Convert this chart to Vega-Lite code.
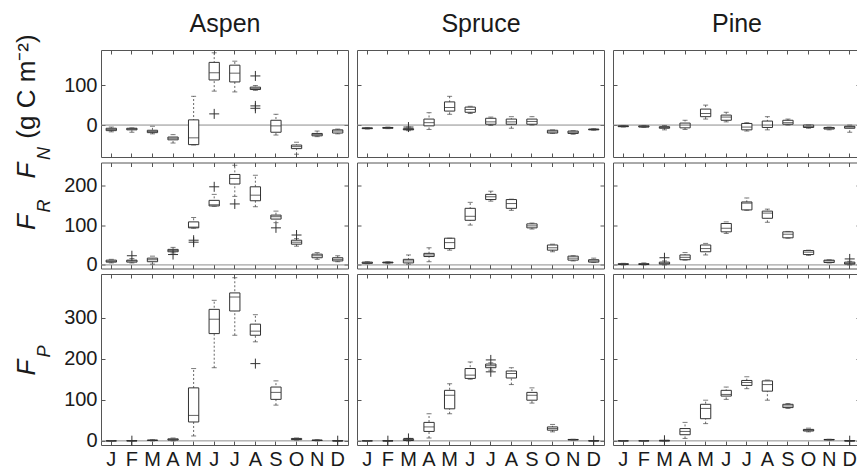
{
"$schema":"https://vega.github.io/schema/vega-lite/v6.json",
"background":"white",
"padding":{"left":12,"top":10,"right":0,"bottom":0},
"bounds":"flush",
"columns":3,
"spacing":{"row":5.5,"column":9},
"config":{
 "view":{"stroke":"#555555","strokeWidth":1},
 "font":"Liberation Sans",
 "axis":{"grid":false,"domain":false,"tickSize":-4,"tickColor":"#555555","tickWidth":1,"labelFont":"Liberation Sans","labelFontSize":20,"labelColor":"#1a1a1a","labelPadding":8,"titleFont":"Liberation Sans","titleColor":"#1a1a1a","titleFontWeight":"normal"},
 "axisX":{"labelAngle":0}
},
"datasets":{
"box":[
{"s":"Aspen","f":"N","m":1,"lo":-17,"q1":-14,"med":-11,"q3":-8,"hi":-5},
{"s":"Aspen","f":"N","m":2,"lo":-18,"q1":-12,"med":-10,"q3":-8,"hi":-7},
{"s":"Aspen","f":"N","m":3,"lo":-22,"q1":-19,"med":-16,"q3":-13,"hi":-3},
{"s":"Aspen","f":"N","m":4,"lo":-45,"q1":-37,"med":-33,"q3":-30,"hi":-24},
{"s":"Aspen","f":"N","m":5,"lo":-50,"q1":-49,"med":-32,"q3":13,"hi":72},
{"s":"Aspen","f":"N","m":6,"lo":85,"q1":113,"med":131,"q3":157,"hi":181},
{"s":"Aspen","f":"N","m":7,"lo":83,"q1":108,"med":130,"q3":150,"hi":160},
{"s":"Aspen","f":"N","m":8,"lo":87,"q1":89,"med":92,"q3":95,"hi":99},
{"s":"Aspen","f":"N","m":9,"lo":-25,"q1":-18,"med":-2,"q3":12,"hi":27},
{"s":"Aspen","f":"N","m":10,"lo":-73,"q1":-59,"med":-54,"q3":-50,"hi":-43},
{"s":"Aspen","f":"N","m":11,"lo":-29,"q1":-27,"med":-24,"q3":-21,"hi":-15},
{"s":"Aspen","f":"N","m":12,"lo":-22,"q1":-20,"med":-15,"q3":-12,"hi":-10},
{"s":"Spruce","f":"N","m":1,"lo":-10,"q1":-9,"med":-8,"q3":-7,"hi":-6},
{"s":"Spruce","f":"N","m":2,"lo":-9,"q1":-8,"med":-7,"q3":-6,"hi":-5},
{"s":"Spruce","f":"N","m":3,"lo":-14,"q1":-12,"med":-11,"q3":-9,"hi":-5},
{"s":"Spruce","f":"N","m":4,"lo":-11,"q1":-2,"med":6,"q3":15,"hi":31},
{"s":"Spruce","f":"N","m":5,"lo":27,"q1":35,"med":44,"q3":58,"hi":72},
{"s":"Spruce","f":"N","m":6,"lo":29,"q1":32,"med":39,"q3":45,"hi":47},
{"s":"Spruce","f":"N","m":7,"lo":-1,"q1":2,"med":8,"q3":17,"hi":20},
{"s":"Spruce","f":"N","m":8,"lo":-8,"q1":2,"med":8,"q3":15,"hi":21},
{"s":"Spruce","f":"N","m":9,"lo":0,"q1":2,"med":9,"q3":15,"hi":21},
{"s":"Spruce","f":"N","m":10,"lo":-21,"q1":-20,"med":-17,"q3":-13,"hi":-12},
{"s":"Spruce","f":"N","m":11,"lo":-23,"q1":-21,"med":-18,"q3":-15,"hi":-14},
{"s":"Spruce","f":"N","m":12,"lo":-13,"q1":-12,"med":-11,"q3":-10,"hi":-9},
{"s":"Pine","f":"N","m":1,"lo":-5,"q1":-4,"med":-3,"q3":-2,"hi":-1},
{"s":"Pine","f":"N","m":2,"lo":-6,"q1":-5,"med":-4,"q3":-2,"hi":-1},
{"s":"Pine","f":"N","m":3,"lo":-12,"q1":-8,"med":-6,"q3":-4,"hi":-1},
{"s":"Pine","f":"N","m":4,"lo":-11,"q1":-7,"med":0,"q3":5,"hi":12},
{"s":"Pine","f":"N","m":5,"lo":15,"q1":21,"med":29,"q3":40,"hi":50},
{"s":"Pine","f":"N","m":6,"lo":8,"q1":12,"med":20,"q3":25,"hi":32},
{"s":"Pine","f":"N","m":7,"lo":-15,"q1":-12,"med":-5,"q3":4,"hi":6},
{"s":"Pine","f":"N","m":8,"lo":-12,"q1":-6,"med":0,"q3":10,"hi":21},
{"s":"Pine","f":"N","m":9,"lo":0,"q1":2,"med":6,"q3":12,"hi":15},
{"s":"Pine","f":"N","m":10,"lo":-8,"q1":-6,"med":-4,"q3":0,"hi":0},
{"s":"Pine","f":"N","m":11,"lo":-12,"q1":-10,"med":-8,"q3":-6,"hi":-5},
{"s":"Pine","f":"N","m":12,"lo":-18,"q1":-8,"med":-5,"q3":-3,"hi":0},
{"s":"Aspen","f":"R","m":1,"lo":5,"q1":7,"med":9,"q3":12,"hi":14},
{"s":"Aspen","f":"R","m":2,"lo":5,"q1":7,"med":10,"q3":12,"hi":16},
{"s":"Aspen","f":"R","m":3,"lo":2,"q1":8,"med":13,"q3":17,"hi":22},
{"s":"Aspen","f":"R","m":4,"lo":30,"q1":33,"med":36,"q3":39,"hi":44},
{"s":"Aspen","f":"R","m":5,"lo":92,"q1":93,"med":95,"q3":108,"hi":119},
{"s":"Aspen","f":"R","m":6,"lo":147,"q1":148,"med":151,"q3":162,"hi":177},
{"s":"Aspen","f":"R","m":7,"lo":172,"q1":203,"med":217,"q3":227,"hi":250},
{"s":"Aspen","f":"R","m":8,"lo":146,"q1":161,"med":175,"q3":196,"hi":225},
{"s":"Aspen","f":"R","m":9,"lo":106,"q1":115,"med":121,"q3":125,"hi":135},
{"s":"Aspen","f":"R","m":10,"lo":47,"q1":52,"med":57,"q3":62,"hi":66},
{"s":"Aspen","f":"R","m":11,"lo":14,"q1":18,"med":23,"q3":27,"hi":31},
{"s":"Aspen","f":"R","m":12,"lo":8,"q1":10,"med":14,"q3":18,"hi":23},
{"s":"Spruce","f":"R","m":1,"lo":3,"q1":4,"med":5,"q3":7,"hi":8},
{"s":"Spruce","f":"R","m":2,"lo":3,"q1":5,"med":6,"q3":7,"hi":8},
{"s":"Spruce","f":"R","m":3,"lo":2,"q1":5,"med":10,"q3":14,"hi":25},
{"s":"Spruce","f":"R","m":4,"lo":8,"q1":21,"med":25,"q3":29,"hi":43},
{"s":"Spruce","f":"R","m":5,"lo":37,"q1":41,"med":56,"q3":67,"hi":67},
{"s":"Spruce","f":"R","m":6,"lo":100,"q1":112,"med":122,"q3":142,"hi":157},
{"s":"Spruce","f":"R","m":7,"lo":160,"q1":164,"med":171,"q3":177,"hi":185},
{"s":"Spruce","f":"R","m":8,"lo":137,"q1":142,"med":154,"q3":164,"hi":165},
{"s":"Spruce","f":"R","m":9,"lo":90,"q1":93,"med":98,"q3":103,"hi":105},
{"s":"Spruce","f":"R","m":10,"lo":33,"q1":37,"med":43,"q3":50,"hi":52},
{"s":"Spruce","f":"R","m":11,"lo":10,"q1":12,"med":17,"q3":22,"hi":23},
{"s":"Spruce","f":"R","m":12,"lo":6,"q1":7,"med":10,"q3":13,"hi":17},
{"s":"Pine","f":"R","m":1,"lo":0,"q1":1,"med":2,"q3":3,"hi":4},
{"s":"Pine","f":"R","m":2,"lo":0,"q1":1,"med":2,"q3":3,"hi":5},
{"s":"Pine","f":"R","m":3,"lo":0,"q1":2,"med":4,"q3":7,"hi":10},
{"s":"Pine","f":"R","m":4,"lo":12,"q1":13,"med":19,"q3":25,"hi":31},
{"s":"Pine","f":"R","m":5,"lo":25,"q1":33,"med":41,"q3":50,"hi":54},
{"s":"Pine","f":"R","m":6,"lo":79,"q1":83,"med":92,"q3":104,"hi":108},
{"s":"Pine","f":"R","m":7,"lo":137,"q1":138,"med":155,"q3":158,"hi":168},
{"s":"Pine","f":"R","m":8,"lo":107,"q1":117,"med":130,"q3":135,"hi":140},
{"s":"Pine","f":"R","m":9,"lo":67,"q1":68,"med":77,"q3":83,"hi":84},
{"s":"Pine","f":"R","m":10,"lo":24,"q1":26,"med":32,"q3":36,"hi":37},
{"s":"Pine","f":"R","m":11,"lo":5,"q1":6,"med":10,"q3":12,"hi":13},
{"s":"Pine","f":"R","m":12,"lo":0,"q1":2,"med":4,"q3":7,"hi":9},
{"s":"Aspen","f":"P","m":1,"lo":0,"q1":0,"med":0,"q3":0,"hi":0.5},
{"s":"Aspen","f":"P","m":2,"lo":0,"q1":0,"med":0.3,"q3":0.5,"hi":1},
{"s":"Aspen","f":"P","m":3,"lo":0,"q1":1,"med":1.5,"q3":2,"hi":3},
{"s":"Aspen","f":"P","m":4,"lo":0,"q1":2,"med":3,"q3":5,"hi":7},
{"s":"Aspen","f":"P","m":5,"lo":12,"q1":46,"med":62,"q3":129,"hi":176},
{"s":"Aspen","f":"P","m":6,"lo":178,"q1":261,"med":296,"q3":320,"hi":342},
{"s":"Aspen","f":"P","m":7,"lo":257,"q1":316,"med":350,"q3":360,"hi":397},
{"s":"Aspen","f":"P","m":8,"lo":241,"q1":257,"med":267,"q3":284,"hi":307},
{"s":"Aspen","f":"P","m":9,"lo":87,"q1":101,"med":118,"q3":131,"hi":146},
{"s":"Aspen","f":"P","m":10,"lo":2,"q1":3,"med":4,"q3":6,"hi":7},
{"s":"Aspen","f":"P","m":11,"lo":0,"q1":1,"med":1.5,"q3":2,"hi":3},
{"s":"Aspen","f":"P","m":12,"lo":0,"q1":0,"med":0,"q3":0.3,"hi":0.5},
{"s":"Spruce","f":"P","m":1,"lo":0,"q1":0,"med":0,"q3":0,"hi":0.5},
{"s":"Spruce","f":"P","m":2,"lo":0,"q1":0,"med":0,"q3":0.3,"hi":0.5},
{"s":"Spruce","f":"P","m":3,"lo":0,"q1":1,"med":2,"q3":4,"hi":6},
{"s":"Spruce","f":"P","m":4,"lo":7,"q1":23,"med":34,"q3":45,"hi":66},
{"s":"Spruce","f":"P","m":5,"lo":66,"q1":78,"med":111,"q3":123,"hi":139},
{"s":"Spruce","f":"P","m":6,"lo":150,"q1":152,"med":160,"q3":176,"hi":192},
{"s":"Spruce","f":"P","m":7,"lo":172,"q1":178,"med":183,"q3":187,"hi":190},
{"s":"Spruce","f":"P","m":8,"lo":137,"q1":153,"med":164,"q3":170,"hi":178},
{"s":"Spruce","f":"P","m":9,"lo":92,"q1":99,"med":111,"q3":118,"hi":129},
{"s":"Spruce","f":"P","m":10,"lo":22,"q1":26,"med":30,"q3":34,"hi":40},
{"s":"Spruce","f":"P","m":11,"lo":2,"q1":2.5,"med":3,"q3":3.5,"hi":4},
{"s":"Spruce","f":"P","m":12,"lo":0,"q1":0,"med":0,"q3":0.3,"hi":0.5},
{"s":"Pine","f":"P","m":1,"lo":0,"q1":0,"med":0,"q3":0,"hi":0.5},
{"s":"Pine","f":"P","m":2,"lo":0,"q1":0,"med":0,"q3":0.3,"hi":0.5},
{"s":"Pine","f":"P","m":3,"lo":0,"q1":0,"med":0.3,"q3":0.5,"hi":1},
{"s":"Pine","f":"P","m":4,"lo":6,"q1":15,"med":23,"q3":30,"hi":45},
{"s":"Pine","f":"P","m":5,"lo":42,"q1":54,"med":79,"q3":89,"hi":99},
{"s":"Pine","f":"P","m":6,"lo":101,"q1":109,"med":113,"q3":123,"hi":131},
{"s":"Pine","f":"P","m":7,"lo":127,"q1":135,"med":142,"q3":147,"hi":156},
{"s":"Pine","f":"P","m":8,"lo":99,"q1":121,"med":137,"q3":146,"hi":148},
{"s":"Pine","f":"P","m":9,"lo":79,"q1":81,"med":85,"q3":89,"hi":91},
{"s":"Pine","f":"P","m":10,"lo":22,"q1":24,"med":26,"q3":28,"hi":31},
{"s":"Pine","f":"P","m":11,"lo":2,"q1":2.5,"med":3,"q3":3.5,"hi":4},
{"s":"Pine","f":"P","m":12,"lo":0,"q1":0,"med":0,"q3":0.3,"hi":0.5}
],
"out":[
{"s":"Aspen","f":"N","m":6,"v":28},
{"s":"Aspen","f":"N","m":8,"v":123},
{"s":"Aspen","f":"N","m":8,"v":48},
{"s":"Aspen","f":"N","m":8,"v":42},
{"s":"Spruce","f":"N","m":3,"v":-5},
{"s":"Aspen","f":"R","m":2,"v":23},
{"s":"Aspen","f":"R","m":4,"v":26},
{"s":"Aspen","f":"R","m":5,"v":62},
{"s":"Aspen","f":"R","m":5,"v":57},
{"s":"Aspen","f":"R","m":6,"v":196},
{"s":"Aspen","f":"R","m":7,"v":153},
{"s":"Aspen","f":"R","m":9,"v":93},
{"s":"Aspen","f":"R","m":10,"v":75},
{"s":"Pine","f":"R","m":3,"v":18},
{"s":"Pine","f":"R","m":12,"v":15},
{"s":"Aspen","f":"P","m":2,"v":0.5},
{"s":"Aspen","f":"P","m":8,"v":188},
{"s":"Aspen","f":"P","m":12,"v":0.5},
{"s":"Spruce","f":"P","m":2,"v":0.5},
{"s":"Spruce","f":"P","m":3,"v":6},
{"s":"Spruce","f":"P","m":7,"v":197},
{"s":"Spruce","f":"P","m":7,"v":168},
{"s":"Spruce","f":"P","m":12,"v":0.5},
{"s":"Pine","f":"P","m":3,"v":1.5},
{"s":"Pine","f":"P","m":12,"v":0.5}
]
},
"concat":[
{"width":247,"height":107,"data":{"name":"box"},"transform":[{"filter":"datum.s==='Aspen'&&datum.f==='N'"}],"resolve":{"axis":{"x":"independent","y":"independent"}},"layer":[
 {"transform":[{"filter":"datum.m===1"}],"mark":{"type":"rule","color":"#8c8c8c","strokeWidth":1},"encoding":{"y":{"datum":0,"type":"quantitative","axis":null}}},
 {"mark":{"type":"rule","color":"#666666","strokeDash":[2,2],"strokeWidth":1},"encoding":{"x":{"field":"m","type":"ordinal","scale":{"type":"band","domain":[1,2,3,4,5,6,7,8,9,10,11,12],"paddingInner":0,"paddingOuter":0},"axis":{"orient":"bottom","title":null,"labels":false}},"y":{"field":"lo","type":"quantitative","scale":{"domain":[-80,188],"nice":false,"zero":false},"axis":{"orient":"left","title":null,"values":[0,100],"labels":true}},"y2":{"field":"hi"}}},
 {"mark":{"type":"bar","fill":"#ffffff","stroke":"#333333","strokeWidth":1,"width":{"band":0.5}},"encoding":{"x":{"field":"m","type":"ordinal","axis":{"orient":"top","labels":false,"title":"Aspen","titleFontSize":25,"titleY":-19,"titleBaseline":"alphabetic"}},"y":{"field":"q1","type":"quantitative","axis":{"orient":"right","title":null,"values":[0,100],"labels":false}},"y2":{"field":"q3"}}},
 {"mark":{"type":"tick","color":"#222222","thickness":1,"size":10},"encoding":{"x":{"field":"m","type":"ordinal","axis":null},"y":{"field":"med","type":"quantitative","axis":{"orient":"left","labels":false,"ticks":false,"domain":false,"title":"F","titleFontStyle":"italic","titleFontSize":26,"titleX":-67,"titleY":120,"titleAngle":-90,"titleAlign":"center","titleBaseline":"alphabetic"}}}},
 {"mark":{"type":"tick","color":"#444444","thickness":1,"size":5},"encoding":{"x":{"field":"m","type":"ordinal","axis":null},"y":{"field":"lo","type":"quantitative","axis":{"orient":"left","labels":false,"ticks":false,"domain":false,"title":"N","titleFontStyle":"italic","titleFontSize":18,"titleX":-52,"titleY":103,"titleAngle":-90,"titleAlign":"center","titleBaseline":"alphabetic"}}}},
 {"mark":{"type":"tick","color":"#444444","thickness":1,"size":5},"encoding":{"x":{"field":"m","type":"ordinal","axis":null},"y":{"field":"hi","type":"quantitative","axis":{"orient":"left","labels":false,"ticks":false,"domain":false,"title":"(g C m⁻²)","titleFontSize":26,"titleX":-67,"titleY":36,"titleAngle":-90,"titleAlign":"center","titleBaseline":"alphabetic"}}}},
 {"data":{"name":"out"},"transform":[{"filter":"datum.s==='Aspen'&&datum.f==='N'"}],"mark":{"type":"point","shape":"M-1,0L1,0M0,-1L0,1","size":100,"stroke":"#333333","strokeWidth":1,"filled":false,"opacity":1},"encoding":{"x":{"field":"m","type":"ordinal","axis":null},"y":{"field":"v","type":"quantitative","axis":null}}}
]},
{"width":247,"height":107,"data":{"name":"box"},"transform":[{"filter":"datum.s==='Spruce'&&datum.f==='N'"}],"resolve":{"axis":{"x":"independent","y":"independent"}},"layer":[
 {"transform":[{"filter":"datum.m===1"}],"mark":{"type":"rule","color":"#8c8c8c","strokeWidth":1},"encoding":{"y":{"datum":0,"type":"quantitative","axis":null}}},
 {"mark":{"type":"rule","color":"#666666","strokeDash":[2,2],"strokeWidth":1},"encoding":{"x":{"field":"m","type":"ordinal","scale":{"type":"band","domain":[1,2,3,4,5,6,7,8,9,10,11,12],"paddingInner":0,"paddingOuter":0},"axis":{"orient":"bottom","title":null,"labels":false}},"y":{"field":"lo","type":"quantitative","scale":{"domain":[-80,188],"nice":false,"zero":false},"axis":{"orient":"left","title":null,"values":[0,100],"labels":false}},"y2":{"field":"hi"}}},
 {"mark":{"type":"bar","fill":"#ffffff","stroke":"#333333","strokeWidth":1,"width":{"band":0.5}},"encoding":{"x":{"field":"m","type":"ordinal","axis":{"orient":"top","labels":false,"title":"Spruce","titleFontSize":25,"titleY":-19,"titleBaseline":"alphabetic"}},"y":{"field":"q1","type":"quantitative","axis":{"orient":"right","title":null,"values":[0,100],"labels":false}},"y2":{"field":"q3"}}},
 {"mark":{"type":"tick","color":"#222222","thickness":1,"size":10},"encoding":{"x":{"field":"m","type":"ordinal","axis":null},"y":{"field":"med","type":"quantitative","axis":null}}},
 {"mark":{"type":"tick","color":"#444444","thickness":1,"size":5},"encoding":{"x":{"field":"m","type":"ordinal","axis":null},"y":{"field":"lo","type":"quantitative","axis":null}}},
 {"mark":{"type":"tick","color":"#444444","thickness":1,"size":5},"encoding":{"x":{"field":"m","type":"ordinal","axis":null},"y":{"field":"hi","type":"quantitative","axis":null}}},
 {"data":{"name":"out"},"transform":[{"filter":"datum.s==='Spruce'&&datum.f==='N'"}],"mark":{"type":"point","shape":"M-1,0L1,0M0,-1L0,1","size":100,"stroke":"#333333","strokeWidth":1,"filled":false,"opacity":1},"encoding":{"x":{"field":"m","type":"ordinal","axis":null},"y":{"field":"v","type":"quantitative","axis":null}}}
]},
{"width":247,"height":107,"data":{"name":"box"},"transform":[{"filter":"datum.s==='Pine'&&datum.f==='N'"}],"resolve":{"axis":{"x":"independent","y":"independent"}},"layer":[
 {"transform":[{"filter":"datum.m===1"}],"mark":{"type":"rule","color":"#8c8c8c","strokeWidth":1},"encoding":{"y":{"datum":0,"type":"quantitative","axis":null}}},
 {"mark":{"type":"rule","color":"#666666","strokeDash":[2,2],"strokeWidth":1},"encoding":{"x":{"field":"m","type":"ordinal","scale":{"type":"band","domain":[1,2,3,4,5,6,7,8,9,10,11,12],"paddingInner":0,"paddingOuter":0},"axis":{"orient":"bottom","title":null,"labels":false}},"y":{"field":"lo","type":"quantitative","scale":{"domain":[-80,188],"nice":false,"zero":false},"axis":{"orient":"left","title":null,"values":[0,100],"labels":false}},"y2":{"field":"hi"}}},
 {"mark":{"type":"bar","fill":"#ffffff","stroke":"#333333","strokeWidth":1,"width":{"band":0.5}},"encoding":{"x":{"field":"m","type":"ordinal","axis":{"orient":"top","labels":false,"title":"Pine","titleFontSize":25,"titleY":-19,"titleBaseline":"alphabetic"}},"y":{"field":"q1","type":"quantitative","axis":{"orient":"right","title":null,"values":[0,100],"labels":false}},"y2":{"field":"q3"}}},
 {"mark":{"type":"tick","color":"#222222","thickness":1,"size":10},"encoding":{"x":{"field":"m","type":"ordinal","axis":null},"y":{"field":"med","type":"quantitative","axis":null}}},
 {"mark":{"type":"tick","color":"#444444","thickness":1,"size":5},"encoding":{"x":{"field":"m","type":"ordinal","axis":null},"y":{"field":"lo","type":"quantitative","axis":null}}},
 {"mark":{"type":"tick","color":"#444444","thickness":1,"size":5},"encoding":{"x":{"field":"m","type":"ordinal","axis":null},"y":{"field":"hi","type":"quantitative","axis":null}}},
 {"data":{"name":"out"},"transform":[{"filter":"datum.s==='Pine'&&datum.f==='N'"}],"mark":{"type":"point","shape":"M-1,0L1,0M0,-1L0,1","size":100,"stroke":"#333333","strokeWidth":1,"filled":false,"opacity":1},"encoding":{"x":{"field":"m","type":"ordinal","axis":null},"y":{"field":"v","type":"quantitative","axis":null}}}
]},
{"width":247,"height":106,"data":{"name":"box"},"transform":[{"filter":"datum.s==='Aspen'&&datum.f==='R'"}],"resolve":{"axis":{"x":"independent","y":"independent"}},"layer":[
 {"transform":[{"filter":"datum.m===1"}],"mark":{"type":"rule","color":"#8c8c8c","strokeWidth":1},"encoding":{"y":{"datum":0,"type":"quantitative","axis":null}}},
 {"mark":{"type":"rule","color":"#666666","strokeDash":[2,2],"strokeWidth":1},"encoding":{"x":{"field":"m","type":"ordinal","scale":{"type":"band","domain":[1,2,3,4,5,6,7,8,9,10,11,12],"paddingInner":0,"paddingOuter":0},"axis":{"orient":"bottom","title":null,"labels":false}},"y":{"field":"lo","type":"quantitative","scale":{"domain":[-9,257],"nice":false,"zero":false},"axis":{"orient":"left","title":null,"values":[0,100,200],"labels":true}},"y2":{"field":"hi"}}},
 {"mark":{"type":"bar","fill":"#ffffff","stroke":"#333333","strokeWidth":1,"width":{"band":0.5}},"encoding":{"x":{"field":"m","type":"ordinal","axis":{"orient":"top","title":null,"labels":false}},"y":{"field":"q1","type":"quantitative","axis":{"orient":"right","title":null,"values":[0,100,200],"labels":false}},"y2":{"field":"q3"}}},
 {"mark":{"type":"tick","color":"#222222","thickness":1,"size":10},"encoding":{"x":{"field":"m","type":"ordinal","axis":null},"y":{"field":"med","type":"quantitative","axis":{"orient":"left","labels":false,"ticks":false,"domain":false,"title":"F","titleFontStyle":"italic","titleFontSize":26,"titleX":-67,"titleY":59,"titleAngle":-90,"titleAlign":"center","titleBaseline":"alphabetic"}}}},
 {"mark":{"type":"tick","color":"#444444","thickness":1,"size":5},"encoding":{"x":{"field":"m","type":"ordinal","axis":null},"y":{"field":"lo","type":"quantitative","axis":{"orient":"left","labels":false,"ticks":false,"domain":false,"title":"R","titleFontStyle":"italic","titleFontSize":18,"titleX":-52,"titleY":43,"titleAngle":-90,"titleAlign":"center","titleBaseline":"alphabetic"}}}},
 {"mark":{"type":"tick","color":"#444444","thickness":1,"size":5},"encoding":{"x":{"field":"m","type":"ordinal","axis":null},"y":{"field":"hi","type":"quantitative","axis":null}}},
 {"data":{"name":"out"},"transform":[{"filter":"datum.s==='Aspen'&&datum.f==='R'"}],"mark":{"type":"point","shape":"M-1,0L1,0M0,-1L0,1","size":100,"stroke":"#333333","strokeWidth":1,"filled":false,"opacity":1},"encoding":{"x":{"field":"m","type":"ordinal","axis":null},"y":{"field":"v","type":"quantitative","axis":null}}}
]},
{"width":247,"height":106,"data":{"name":"box"},"transform":[{"filter":"datum.s==='Spruce'&&datum.f==='R'"}],"resolve":{"axis":{"x":"independent","y":"independent"}},"layer":[
 {"transform":[{"filter":"datum.m===1"}],"mark":{"type":"rule","color":"#8c8c8c","strokeWidth":1},"encoding":{"y":{"datum":0,"type":"quantitative","axis":null}}},
 {"mark":{"type":"rule","color":"#666666","strokeDash":[2,2],"strokeWidth":1},"encoding":{"x":{"field":"m","type":"ordinal","scale":{"type":"band","domain":[1,2,3,4,5,6,7,8,9,10,11,12],"paddingInner":0,"paddingOuter":0},"axis":{"orient":"bottom","title":null,"labels":false}},"y":{"field":"lo","type":"quantitative","scale":{"domain":[-9,257],"nice":false,"zero":false},"axis":{"orient":"left","title":null,"values":[0,100,200],"labels":false}},"y2":{"field":"hi"}}},
 {"mark":{"type":"bar","fill":"#ffffff","stroke":"#333333","strokeWidth":1,"width":{"band":0.5}},"encoding":{"x":{"field":"m","type":"ordinal","axis":{"orient":"top","title":null,"labels":false}},"y":{"field":"q1","type":"quantitative","axis":{"orient":"right","title":null,"values":[0,100,200],"labels":false}},"y2":{"field":"q3"}}},
 {"mark":{"type":"tick","color":"#222222","thickness":1,"size":10},"encoding":{"x":{"field":"m","type":"ordinal","axis":null},"y":{"field":"med","type":"quantitative","axis":null}}},
 {"mark":{"type":"tick","color":"#444444","thickness":1,"size":5},"encoding":{"x":{"field":"m","type":"ordinal","axis":null},"y":{"field":"lo","type":"quantitative","axis":null}}},
 {"mark":{"type":"tick","color":"#444444","thickness":1,"size":5},"encoding":{"x":{"field":"m","type":"ordinal","axis":null},"y":{"field":"hi","type":"quantitative","axis":null}}},
 {"data":{"name":"out"},"transform":[{"filter":"datum.s==='Spruce'&&datum.f==='R'"}],"mark":{"type":"point","shape":"M-1,0L1,0M0,-1L0,1","size":100,"stroke":"#333333","strokeWidth":1,"filled":false,"opacity":1},"encoding":{"x":{"field":"m","type":"ordinal","axis":null},"y":{"field":"v","type":"quantitative","axis":null}}}
]},
{"width":247,"height":106,"data":{"name":"box"},"transform":[{"filter":"datum.s==='Pine'&&datum.f==='R'"}],"resolve":{"axis":{"x":"independent","y":"independent"}},"layer":[
 {"transform":[{"filter":"datum.m===1"}],"mark":{"type":"rule","color":"#8c8c8c","strokeWidth":1},"encoding":{"y":{"datum":0,"type":"quantitative","axis":null}}},
 {"mark":{"type":"rule","color":"#666666","strokeDash":[2,2],"strokeWidth":1},"encoding":{"x":{"field":"m","type":"ordinal","scale":{"type":"band","domain":[1,2,3,4,5,6,7,8,9,10,11,12],"paddingInner":0,"paddingOuter":0},"axis":{"orient":"bottom","title":null,"labels":false}},"y":{"field":"lo","type":"quantitative","scale":{"domain":[-9,257],"nice":false,"zero":false},"axis":{"orient":"left","title":null,"values":[0,100,200],"labels":false}},"y2":{"field":"hi"}}},
 {"mark":{"type":"bar","fill":"#ffffff","stroke":"#333333","strokeWidth":1,"width":{"band":0.5}},"encoding":{"x":{"field":"m","type":"ordinal","axis":{"orient":"top","title":null,"labels":false}},"y":{"field":"q1","type":"quantitative","axis":{"orient":"right","title":null,"values":[0,100,200],"labels":false}},"y2":{"field":"q3"}}},
 {"mark":{"type":"tick","color":"#222222","thickness":1,"size":10},"encoding":{"x":{"field":"m","type":"ordinal","axis":null},"y":{"field":"med","type":"quantitative","axis":null}}},
 {"mark":{"type":"tick","color":"#444444","thickness":1,"size":5},"encoding":{"x":{"field":"m","type":"ordinal","axis":null},"y":{"field":"lo","type":"quantitative","axis":null}}},
 {"mark":{"type":"tick","color":"#444444","thickness":1,"size":5},"encoding":{"x":{"field":"m","type":"ordinal","axis":null},"y":{"field":"hi","type":"quantitative","axis":null}}},
 {"data":{"name":"out"},"transform":[{"filter":"datum.s==='Pine'&&datum.f==='R'"}],"mark":{"type":"point","shape":"M-1,0L1,0M0,-1L0,1","size":100,"stroke":"#333333","strokeWidth":1,"filled":false,"opacity":1},"encoding":{"x":{"field":"m","type":"ordinal","axis":null},"y":{"field":"v","type":"quantitative","axis":null}}}
]},
{"width":247,"height":171,"data":{"name":"box"},"transform":[{"filter":"datum.s==='Aspen'&&datum.f==='P'"}],"resolve":{"axis":{"x":"independent","y":"independent"}},"layer":[
 {"transform":[{"filter":"datum.m===1"}],"mark":{"type":"rule","color":"#8c8c8c","strokeWidth":1},"encoding":{"y":{"datum":0,"type":"quantitative","axis":null}}},
 {"mark":{"type":"rule","color":"#666666","strokeDash":[2,2],"strokeWidth":1},"encoding":{"x":{"field":"m","type":"ordinal","scale":{"type":"band","domain":[1,2,3,4,5,6,7,8,9,10,11,12],"paddingInner":0,"paddingOuter":0},"axis":{"orient":"bottom","title":null,"labels":true,"labelExpr":"['J','F','M','A','M','J','J','A','S','O','N','D'][datum.value-1]"}},"y":{"field":"lo","type":"quantitative","scale":{"domain":[-10,406],"nice":false,"zero":false},"axis":{"orient":"left","title":null,"values":[0,100,200,300],"labels":true}},"y2":{"field":"hi"}}},
 {"mark":{"type":"bar","fill":"#ffffff","stroke":"#333333","strokeWidth":1,"width":{"band":0.5}},"encoding":{"x":{"field":"m","type":"ordinal","axis":{"orient":"top","title":null,"labels":false}},"y":{"field":"q1","type":"quantitative","axis":{"orient":"right","title":null,"values":[0,100,200,300],"labels":false}},"y2":{"field":"q3"}}},
 {"mark":{"type":"tick","color":"#222222","thickness":1,"size":10},"encoding":{"x":{"field":"m","type":"ordinal","axis":null},"y":{"field":"med","type":"quantitative","axis":{"orient":"left","labels":false,"ticks":false,"domain":false,"title":"F","titleFontStyle":"italic","titleFontSize":26,"titleX":-67,"titleY":93,"titleAngle":-90,"titleAlign":"center","titleBaseline":"alphabetic"}}}},
 {"mark":{"type":"tick","color":"#444444","thickness":1,"size":5},"encoding":{"x":{"field":"m","type":"ordinal","axis":null},"y":{"field":"lo","type":"quantitative","axis":{"orient":"left","labels":false,"ticks":false,"domain":false,"title":"P","titleFontStyle":"italic","titleFontSize":18,"titleX":-52,"titleY":77,"titleAngle":-90,"titleAlign":"center","titleBaseline":"alphabetic"}}}},
 {"mark":{"type":"tick","color":"#444444","thickness":1,"size":5},"encoding":{"x":{"field":"m","type":"ordinal","axis":null},"y":{"field":"hi","type":"quantitative","axis":null}}},
 {"data":{"name":"out"},"transform":[{"filter":"datum.s==='Aspen'&&datum.f==='P'"}],"mark":{"type":"point","shape":"M-1,0L1,0M0,-1L0,1","size":100,"stroke":"#333333","strokeWidth":1,"filled":false,"opacity":1},"encoding":{"x":{"field":"m","type":"ordinal","axis":null},"y":{"field":"v","type":"quantitative","axis":null}}}
]},
{"width":247,"height":171,"data":{"name":"box"},"transform":[{"filter":"datum.s==='Spruce'&&datum.f==='P'"}],"resolve":{"axis":{"x":"independent","y":"independent"}},"layer":[
 {"transform":[{"filter":"datum.m===1"}],"mark":{"type":"rule","color":"#8c8c8c","strokeWidth":1},"encoding":{"y":{"datum":0,"type":"quantitative","axis":null}}},
 {"mark":{"type":"rule","color":"#666666","strokeDash":[2,2],"strokeWidth":1},"encoding":{"x":{"field":"m","type":"ordinal","scale":{"type":"band","domain":[1,2,3,4,5,6,7,8,9,10,11,12],"paddingInner":0,"paddingOuter":0},"axis":{"orient":"bottom","title":null,"labels":true,"labelExpr":"['J','F','M','A','M','J','J','A','S','O','N','D'][datum.value-1]"}},"y":{"field":"lo","type":"quantitative","scale":{"domain":[-10,406],"nice":false,"zero":false},"axis":{"orient":"left","title":null,"values":[0,100,200,300],"labels":false}},"y2":{"field":"hi"}}},
 {"mark":{"type":"bar","fill":"#ffffff","stroke":"#333333","strokeWidth":1,"width":{"band":0.5}},"encoding":{"x":{"field":"m","type":"ordinal","axis":{"orient":"top","title":null,"labels":false}},"y":{"field":"q1","type":"quantitative","axis":{"orient":"right","title":null,"values":[0,100,200,300],"labels":false}},"y2":{"field":"q3"}}},
 {"mark":{"type":"tick","color":"#222222","thickness":1,"size":10},"encoding":{"x":{"field":"m","type":"ordinal","axis":null},"y":{"field":"med","type":"quantitative","axis":null}}},
 {"mark":{"type":"tick","color":"#444444","thickness":1,"size":5},"encoding":{"x":{"field":"m","type":"ordinal","axis":null},"y":{"field":"lo","type":"quantitative","axis":null}}},
 {"mark":{"type":"tick","color":"#444444","thickness":1,"size":5},"encoding":{"x":{"field":"m","type":"ordinal","axis":null},"y":{"field":"hi","type":"quantitative","axis":null}}},
 {"data":{"name":"out"},"transform":[{"filter":"datum.s==='Spruce'&&datum.f==='P'"}],"mark":{"type":"point","shape":"M-1,0L1,0M0,-1L0,1","size":100,"stroke":"#333333","strokeWidth":1,"filled":false,"opacity":1},"encoding":{"x":{"field":"m","type":"ordinal","axis":null},"y":{"field":"v","type":"quantitative","axis":null}}}
]},
{"width":247,"height":171,"data":{"name":"box"},"transform":[{"filter":"datum.s==='Pine'&&datum.f==='P'"}],"resolve":{"axis":{"x":"independent","y":"independent"}},"layer":[
 {"transform":[{"filter":"datum.m===1"}],"mark":{"type":"rule","color":"#8c8c8c","strokeWidth":1},"encoding":{"y":{"datum":0,"type":"quantitative","axis":null}}},
 {"mark":{"type":"rule","color":"#666666","strokeDash":[2,2],"strokeWidth":1},"encoding":{"x":{"field":"m","type":"ordinal","scale":{"type":"band","domain":[1,2,3,4,5,6,7,8,9,10,11,12],"paddingInner":0,"paddingOuter":0},"axis":{"orient":"bottom","title":null,"labels":true,"labelExpr":"['J','F','M','A','M','J','J','A','S','O','N','D'][datum.value-1]"}},"y":{"field":"lo","type":"quantitative","scale":{"domain":[-10,406],"nice":false,"zero":false},"axis":{"orient":"left","title":null,"values":[0,100,200,300],"labels":false}},"y2":{"field":"hi"}}},
 {"mark":{"type":"bar","fill":"#ffffff","stroke":"#333333","strokeWidth":1,"width":{"band":0.5}},"encoding":{"x":{"field":"m","type":"ordinal","axis":{"orient":"top","title":null,"labels":false}},"y":{"field":"q1","type":"quantitative","axis":{"orient":"right","title":null,"values":[0,100,200,300],"labels":false}},"y2":{"field":"q3"}}},
 {"mark":{"type":"tick","color":"#222222","thickness":1,"size":10},"encoding":{"x":{"field":"m","type":"ordinal","axis":null},"y":{"field":"med","type":"quantitative","axis":null}}},
 {"mark":{"type":"tick","color":"#444444","thickness":1,"size":5},"encoding":{"x":{"field":"m","type":"ordinal","axis":null},"y":{"field":"lo","type":"quantitative","axis":null}}},
 {"mark":{"type":"tick","color":"#444444","thickness":1,"size":5},"encoding":{"x":{"field":"m","type":"ordinal","axis":null},"y":{"field":"hi","type":"quantitative","axis":null}}},
 {"data":{"name":"out"},"transform":[{"filter":"datum.s==='Pine'&&datum.f==='P'"}],"mark":{"type":"point","shape":"M-1,0L1,0M0,-1L0,1","size":100,"stroke":"#333333","strokeWidth":1,"filled":false,"opacity":1},"encoding":{"x":{"field":"m","type":"ordinal","axis":null},"y":{"field":"v","type":"quantitative","axis":null}}}
]}
]
}
